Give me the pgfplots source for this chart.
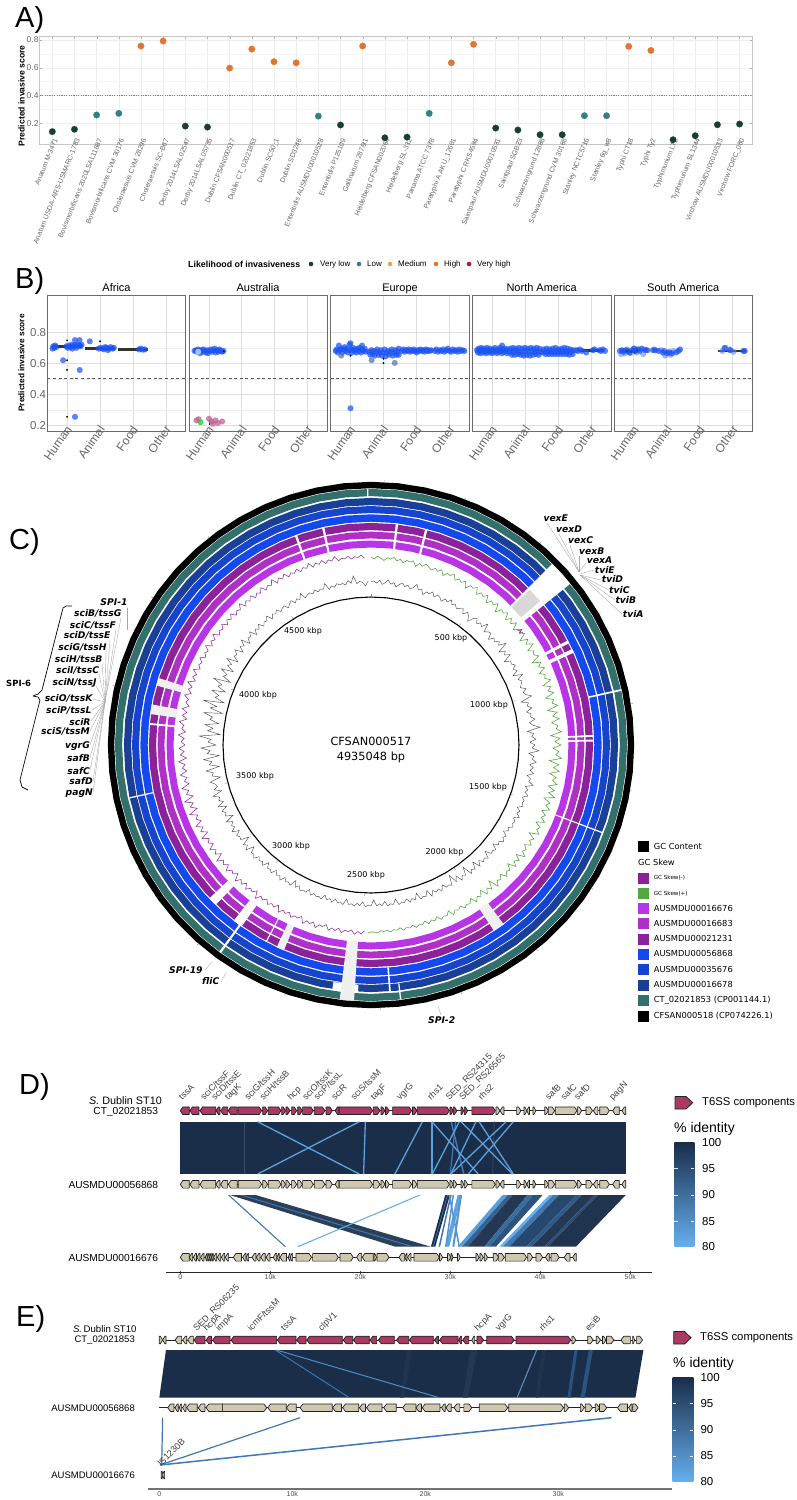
\documentclass[border=0pt]{standalone}
\usepackage{pgfplots}
\pgfplotsset{compat=1.18}
\usepgfplotslibrary{polar}
\usepackage{fontspec}
\setmainfont{Liberation Sans}
\newfontfamily\dv{DejaVu Sans}

\definecolor{vlow}{HTML}{17402F}
\definecolor{lowc}{HTML}{337F87}
\definecolor{medc}{HTML}{F0A050}
\definecolor{highc}{HTML}{E0762F}
\definecolor{vhigh}{HTML}{B5172E}
\definecolor{ptblue}{HTML}{1B54F5}
\definecolor{tickgray}{HTML}{666666}
\definecolor{m1}{HTML}{B835E6}
\definecolor{m2}{HTML}{AE30C4}
\definecolor{m3}{HTML}{8C2299}
\definecolor{b1}{HTML}{1449EE}
\definecolor{b2}{HTML}{1644CC}
\definecolor{b3}{HTML}{1A3F96}
\definecolor{teal1}{HTML}{33706C}
\definecolor{gapg}{HTML}{F0F0F0}
\definecolor{skewp}{HTML}{8E3A9E}
\definecolor{skewg}{HTML}{55A840}
\definecolor{t6ss}{HTML}{A83A63}
\definecolor{beige}{HTML}{CFC8B0}
\definecolor{genedge}{HTML}{222222}
\definecolor{idn}{HTML}{1A2E4A}
\definecolor{idl}{HTML}{65AFF0}
\definecolor{ribm}{HTML}{3F78B2}

\newcommand\fs[1]{\fontsize{#1}{#1}\selectfont}
\newcommand\gi{\dv\fs{9.2}\bfseries\itshape}
\newcommand\ringpts[1]{(0,#1)(6,#1)(12,#1)(18,#1)(24,#1)(30,#1)(36,#1)(42,#1)(48,#1)(54,#1)(60,#1)(66,#1)(72,#1)(78,#1)(84,#1)(90,#1)(96,#1)(102,#1)(108,#1)(114,#1)(120,#1)(126,#1)(132,#1)(138,#1)(144,#1)(150,#1)(156,#1)(162,#1)(168,#1)(174,#1)(180,#1)(186,#1)(192,#1)(198,#1)(204,#1)(210,#1)(216,#1)(222,#1)(228,#1)(234,#1)(240,#1)(246,#1)(252,#1)(258,#1)(264,#1)(270,#1)(276,#1)(282,#1)(288,#1)(294,#1)(300,#1)(306,#1)(312,#1)(318,#1)(324,#1)(330,#1)(336,#1)(342,#1)(348,#1)(354,#1)(360,#1)}
\newcommand\rng[3]{\edef\tmp{\noexpand\addplot[draw=#3,line width=#2pt,line join=round] coordinates {\ringpts{#1}};}\tmp}
\newcommand\gp[5]{\addplot[fill=#5,draw=none] coordinates {(#1,#3)(#2,#3)(#2,#4)(#1,#4)};}
\newcommand\rt[3]{\addplot[draw=gray,line width=.4pt] coordinates {(#1,#2)(#1,#3)};}

\def\headk{.28}
\newcommand\gn[4]{%
  \pgfmathsetmacro\gM{#3-(#3>#2?1:-1)*min(\headk,abs(#3-#2)*0.7)}%
  \pgfmathsetmacro\gA{#1-3.8}\pgfmathsetmacro\gB{#1+3.8}%
  \edef\tmp{\noexpand\addplot[fill=#4,draw=genedge,line width=.7pt,line join=round] coordinates {(#2,\gA)(\gM,\gA)(#3,#1)(\gM,\gB)(#2,\gB)(#2,\gA)};}\tmp}
\newcommand\grow[3]{\foreach \ga/\gb in {#3}{\gn{#1}{\ga}{\gb}{#2}}}
\newcommand\rs[7]{\addplot[fill=#7,draw=none] coordinates {(#3,#1)(#4,#1)(#6,#2)(#5,#2)};}
\newcommand\rl[6]{\addplot[draw=#5,line width=#6pt] coordinates {(#3,#1)(#4,#2)};}

\newcommand\lab[4][west]{\node[anchor=#1,inner sep=0pt] at (axis cs:#2,-#3) {#4};}
\newcommand\lf[2]{\addplot[draw=gray!70,line width=.35pt] coordinates {#1 #2};}
\newcommand\gl[3]{\node[rotate=45,anchor=base west,inner sep=0pt,font=\fs{9},text=black!75] at (axis cs:#1,-#2) {#3};}
\newcommand\sq[2]{\addplot[only marks,mark=square*,mark size=5pt,mark options={draw=#2,fill=#2,line width=.1pt}] coordinates {(643,-#1)};}
\newcommand\dt[2]{\addplot[only marks,mark=*,mark size=2.2pt,mark options={draw=#2,fill=#2,line width=.1pt}] coordinates {(#1,-264)};}

\pgfplotsset{
  mk/.style 2 args={only marks,mark=*,mark size=#2,mark options={draw=#1,fill=#1,line width=.1pt,line join=round}},
  mo/.style n args={3}{only marks,mark=*,mark size=#2,mark options={draw=#1,fill=#1,line width=.1pt,line join=round,opacity=#3}},
  bp/.style={mo={ptblue}{2.9pt}{.72}},
  ol/.style={mk={black}{.9pt}},
  med/.style={draw=black!80,line width=3pt},
  cut/.style={draw=black!65,line width=1pt,dash pattern=on 3pt off 2.6pt},
  fb/.style={scale only axis,height=136.4pt,xmin=-.6,xmax=3.6,ymin=.159,ymax=1.039,
    xtick={0,1,2,3},xticklabels={Human,Animal,Food,Other},ytick={.2,.4,.6,.8},minor y tick num=1,grid=both,
    major grid style={draw=black!13,line width=.8pt},minor grid style={draw=black!7,line width=.5pt},
    axis line style={draw=black!58,line width=1pt},tick style={draw=none},clip=true,
    xticklabel style={rotate=55,anchor=east,font=\fs{12},text=tickgray,xshift=5pt,yshift=1pt,inner sep=0pt},
    yticklabel style={font=\fs{11.5},text=tickgray,inner sep=1pt},
    /pgf/number format/assume math mode=true,/pgf/number format/fixed,/pgf/number format/precision=1},
  gax/.style={scale only axis,axis x line=bottom,axis y line=none,axis line style={-},clip=false,
    xtick={0,10,20,30,40,50},xticklabels={0,10k,20k,30k,40k,50k},
    xticklabel style={font=\fs{7},text=black!70,inner sep=1pt},
    /pgf/number format/assume math mode=true}
}

\begin{document}
\begin{tikzpicture}
\path[use as bounding box] (0,0) rectangle (796pt,-1500pt);

% panel A
\begin{axis}[at={(39.7pt,-144.3pt)},anchor=south west,scale only axis,width=712.3pt,height=107.6pt,
  xmin=-.568,xmax=31.56,ymin=.049,ymax=.824,xtick={0,...,31},ytick={.2,.4,.6,.8},minor y tick num=1,grid=both,
  major grid style={draw=black!7,line width=.5pt},minor grid style={draw=black!4,line width=.4pt},
  axis line style={draw=black!22,line width=1pt},tick style={draw=black!30},major tick length=2pt,minor tick length=0pt,
  /pgf/number format/assume math mode=true,/pgf/number format/fixed,/pgf/number format/precision=1,
  yticklabel style={font=\fs{8.5},text=tickgray,inner sep=1pt},
  xticklabel style={rotate=68,anchor=east,font=\fs{7},text=tickgray,inner sep=0pt,xshift=6.5pt,yshift=-1pt},
  xticklabels={Anatum M-3471,Anatum USDA-ARS-USMARC-1783,Bovismorbificans 2020LSAL11867,Bovismorbificans CVM 30176,Choleraesuis CVM 28296,Choleraesuis SC-B67,Derby 2014LSAL02547,Derby 2014LSAL05735,Dublin CFSAN000517,Dublin CT\_02021853,Dublin SC50\_1,Dublin SD3246,Enteritidis AUSMDU00010528,Enteritidis P125109,Gallinarum 287/91,Heidelberg CFSAN002064,Heidelberg SL-312,Panama ATCC 7378,Paratyphi A AKU\_12601,Paratyphi C RKS4594,Saintpaul AUSMDU00010531,Saintpaul SGB23,Schwarzengrund 12888,Schwarzengrund CVM 30168,Stanley NCTC5716,Stanley 6g\_w8,Typhi CT18,Typhi Ty2,Typhimurium LT2,Typhimurium SL1344,Virchow AUSMDU00010533,Virchow FORC\_080}]
\addplot[draw=black!50,line width=.9pt,dash pattern=on 1.2pt off 1.2pt] coordinates {(-.568,.4)(31.56,.4)};
\addplot[mk={vlow}{3.3pt}] coordinates {(0,.14)(1,.157)(6,.18)(7,.173)(13,.188)(15,.096)(16,.101)(20,.166)(21,.152)(22,.118)(23,.118)(28,.082)(29,.111)(30,.19)(31,.195)};
\addplot[mk={lowc}{3.3pt}] coordinates {(2,.26)(3,.272)(12,.252)(17,.272)(24,.255)(25,.255)};
\addplot[mk={highc}{3.3pt}] coordinates {(4,.757)(5,.793)(8,.598)(9,.735)(10,.644)(11,.636)(14,.757)(18,.636)(19,.769)(26,.754)(27,.725)};
\end{axis}

% panel B
\begin{axis}[fb,at={(47.3pt,-431.7pt)},anchor=south west,width=138.4pt]
\addplot[cut] coordinates {(-.6,.5)(3.6,.5)};
\addplot[med] coordinates {(-.45,.71)(.45,.71)};
\addplot[med] coordinates {(.55,.697)(1.45,.697)};
\addplot[med] coordinates {(1.55,.69)(2.45,.69)};
\addplot[bp] coordinates {(-.44,.695)(-.42,.71)(-.39,.70)(-.36,.715)(-.33,.705)(-.02,.71)(.02,.70)(.06,.715)(.1,.705)(.14,.72)(.16,.695)(.2,.71)(.24,.72)(.24,.75)(.28,.70)(.31,.715)(.36,.72)(.38,.75)(.41,.71)(.44,.72)(-.12,.62)(.385,.557)(.24,.255)
 (.69,.742)(.96,.695)(1.02,.70)(1.08,.695)(1.12,.69)(1.16,.705)(1.2,.70)(1.24,.685)(1.28,.695)(1.32,.705)(1.38,.695)(1.42,.70)(2.18,.69)(2.24,.695)(2.3,.688)(2.36,.69)};
\addplot[ol] coordinates {(0,.748)(0,.62)(0,.558)(0,.255)(1,.742)};
\end{axis}

\begin{axis}[fb,at={(189.3pt,-431.7pt)},anchor=south west,width=138pt,yticklabels={}]
\addplot[cut] coordinates {(-.6,.5)(3.6,.5)};
\addplot[bp] coordinates {(-.44,.68)(-.4,.685)(-.37,.675)(-.33,.69)(-.3,.68)(-.27,.665)(-.24,.685)(-.2,.675)(-.17,.69)(-.13,.68)(-.1,.67)(-.06,.685)(-.03,.665)(.01,.68)(.05,.69)(.09,.675)(.13,.685)(.17,.695)(.2,.67)(.24,.685)(.28,.675)(.32,.69)(.36,.68)(.4,.675)(.44,.68)};
\addplot[mo={ptblue!30!white}{2.9pt}{.9}] coordinates {(-.33,.675)};
\addplot[mo={magenta!55!gray}{2.9pt}{.75}] coordinates {(-.38,.232)(-.32,.24)(0,.243)(.12,.21)(.2,.232)(.27,.215)(.4,.225)(.08,.225)};
\addplot[mo={green!60!gray}{2.9pt}{.8}] coordinates {(-.26,.22)};
\addplot[draw=black,line width=1pt] coordinates {(.02,.205)(.02,.235)};
\addplot[ol] coordinates {(.45,.678)};
\end{axis}

\begin{axis}[fb,at={(330.7pt,-431.7pt)},anchor=south west,width=138.6pt,yticklabels={}]
\addplot[cut] coordinates {(-.6,.5)(3.6,.5)};
\addplot[bp] coordinates {(-.45,.68)(-.42,.69)(-.38,.67)(-.35,.715)(-.33,.685)(-.29,.695)(-.25,.67)(-.22,.69)(-.18,.705)(-.15,.68)(-.12,.695)(-.08,.67)(-.05,.685)(-.03,.72)(0,.73)(.02,.69)(.05,.67)(.08,.70)(.11,.68)(.15,.69)(.18,.67)(.21,.695)(.25,.68)(.28,.70)(.32,.67)(.35,.69)(.35,.715)(.39,.68)(.43,.695)(.46,.675)(0,.31)
 (.56,.675)(.6,.655)(.63,.685)(.67,.66)(.7,.68)(.74,.65)(.78,.675)(.81,.69)(.85,.655)(.88,.67)(.92,.685)(.95,.65)(.99,.67)(1.03,.69)(1.06,.645)(1.1,.665)(1.14,.68)(1.17,.655)(1.21,.675)(1.25,.69)(1.28,.65)(1.32,.67)(1.36,.685)(1.39,.655)(1.43,.675)(1.46,.695)(1.46,.655)
 (1.56,.68)(1.6,.69)(1.64,.675)(1.68,.685)(1.72,.68)(1.76,.69)(1.8,.675)(1.84,.685)(1.88,.68)(1.92,.69)(1.96,.68)(2,.67)(2.04,.685)(2.08,.68)(2.12,.69)(2.16,.68)(2.2,.685)(2.24,.675)(2.28,.69)(2.32,.68)(2.36,.685)(2.4,.68)(2.44,.685)
 (2.55,.68)(2.6,.69)(2.65,.675)(2.7,.685)(2.75,.68)(2.8,.69)(2.85,.675)(2.9,.685)(2.95,.695)(3,.68)(3.05,.675)(3.1,.69)(3.15,.68)(3.2,.685)(3.25,.675)(3.3,.69)(3.35,.68)(3.4,.685)(3.45,.68)};
\addplot[mo={ptblue!45!gray}{2.9pt}{.7}] coordinates {(1.34,.603)(.64,.62)(-.28,.65)};
\addplot[ol] coordinates {(0,.65)(1,.602)(1,.63)};
\end{axis}

\begin{axis}[fb,at={(472.3pt,-431.7pt)},anchor=south west,width=138.7pt,yticklabels={}]
\addplot[cut] coordinates {(-.6,.5)(3.6,.5)};
\addplot[med,line width=2.5pt] coordinates {(2.7,.682)(3.4,.682)};
\addplot[bp] coordinates {(-.46,.685)(-.43,.67)(-.41,.695)(-.38,.68)(-.35,.665)(-.33,.70)(-.3,.685)(-.27,.67)(-.24,.695)(-.21,.68)(-.18,.665)(-.15,.70)(-.12,.685)(-.09,.67)(-.06,.695)(-.03,.68)(0,.665)(.03,.69)(.06,.675)(.09,.70)(.12,.68)(.15,.665)(.18,.69)(.21,.675)(.24,.70)(.27,.68)(.3,.715)(.3,.665)(.33,.69)(.36,.675)(.39,.695)(.42,.68)(.45,.665)(.46,.69)
 (.53,.67)(.55,.695)(.58,.68)(.6,.655)(.63,.70)(.66,.675)(.69,.655)(.72,.695)(.75,.68)(.78,.66)(.81,.70)(.84,.675)(.87,.655)(.9,.695)(.93,.675)(.96,.65)(.99,.70)(1.02,.68)(1.05,.655)(1.08,.695)(1.11,.675)(1.14,.65)(1.17,.70)(1.2,.68)(1.23,.655)(1.26,.695)(1.29,.675)(1.32,.66)(1.35,.70)(1.38,.675)(1.41,.655)(1.44,.695)(1.46,.675)
 (1.53,.67)(1.56,.69)(1.59,.675)(1.62,.66)(1.65,.695)(1.68,.675)(1.71,.66)(1.74,.69)(1.77,.675)(1.8,.66)(1.83,.695)(1.86,.675)(1.89,.66)(1.92,.70)(1.95,.675)(1.98,.66)(2.01,.69)(2.04,.675)(2.07,.66)(2.1,.695)(2.13,.68)(2.16,.66)(2.19,.70)(2.22,.675)(2.25,.66)(2.28,.695)(2.31,.675)(2.34,.655)(2.37,.69)(2.4,.675)(2.44,.66)(2.46,.685)
 (2.55,.685)(2.6,.68)(2.65,.69)(2.72,.68)(2.85,.67)(3.05,.685)(3.1,.69)(3.25,.685)(3.3,.68)(3.35,.69)(3.42,.68)};
\end{axis}

\begin{axis}[fb,at={(614pt,-431.7pt)},anchor=south west,width=138.7pt,yticklabels={}]
\addplot[cut] coordinates {(-.6,.5)(3.6,.5)};
\addplot[med,line width=2pt] coordinates {(2.55,.682)(3.4,.682)};
\addplot[mo={ptblue!70!white}{2.9pt}{.6}] coordinates {(-.38,.66)(-.34,.68)(-.27,.665)(-.2,.69)(-.1,.665)(.02,.695)(.08,.67)(.15,.69)(.28,.66)(.32,.69)(.62,.69)(.82,.685)(.95,.65)(1.05,.675)(1.12,.655)(1.2,.68)(2.68,.68)(2.78,.70)(2.9,.69)(3.02,.675)};
\addplot[bp] coordinates {(-.42,.68)(-.36,.685)(-.3,.675)(-.25,.685)(-.18,.68)(-.13,.67)(-.05,.685)(0,.695)(.05,.68)(.12,.69)(.18,.68)(.24,.695)(.36,.685)(.41,.685)(.58,.685)(.65,.685)(.75,.68)(.88,.67)(.92,.68)(1,.665)(1.08,.67)(1.16,.665)(1.28,.67)(1.35,.68)(1.4,.69)(2.75,.70)(2.92,.685)(3.32,.68)(3.36,.68)};
\addplot[mo={vlow}{1.6pt}{.45}] coordinates {(-.08,.675)(.03,.67)(-.2,.68)(.1,.685)};
\addplot[draw=black,line width=.8pt] coordinates {(1,.66)(1,.675)};
\end{axis}

% panel C
\begin{polaraxis}[at={(371pt,-745pt)},anchor=center,scale only axis,width=526pt,height=526pt,hide axis,ymin=0,ymax=263,clip=false,
  x coord trafo/.code={\pgfmathparse{90-#1}}]
\rng{260}{6.4}{black}
\rng{252.5}{7.2}{teal1}
\rng{243.5}{7.2}{b3}
\rng{235.5}{7}{b2}
\rng{227}{7.4}{b1}
\rng{218.5}{7.2}{m3}
\rng{210}{6.8}{m2}
\rng{201}{7}{m1}
\rng{148}{1.1}{black}
\addplot[draw=skewg,line width=.6pt] table[x expr=\coordindex,y=r,row sep=\\] {r\\188\\186\\189\\187\\185\\188\\187\\189\\186\\188\\185\\188\\187\\189\\184\\188\\186\\189\\187\\185\\188\\186\\189\\184\\188\\187\\190\\185\\188\\186\\189\\183\\188\\187\\190\\184\\188\\186\\190\\183\\188\\186\\190\\182\\188\\187\\190\\184\\189\\185\\190\\183\\188\\186\\190\\182\\189\\185\\191\\183\\188\\186\\190\\181\\189\\185\\190\\183\\188\\186\\191\\182\\189\\185\\190\\181\\188\\186\\191\\180\\189\\184\\190\\182\\188\\186\\191\\180\\189\\184\\190\\182\\188\\185\\191\\179\\189\\184\\190\\181\\188\\185\\190\\182\\189\\184\\191\\181\\188\\185\\190\\183\\188\\185\\190\\182\\188\\186\\190\\181\\188\\185\\189\\183\\187\\185\\190\\182\\188\\184\\189\\181\\187\\185\\189\\183\\187\\185\\190\\180\\188\\184\\189\\182\\187\\185\\189\\183\\187\\186\\188\\184\\187\\185\\189\\183\\187\\186\\188\\184\\187\\185\\188\\184\\187\\186\\188\\185\\187\\186\\188\\185\\187\\186\\188\\186\\187\\186\\188\\187\\187\\188\\};
\addplot[draw=skewp,line width=.6pt] table[x expr=182+\coordindex,y=r,row sep=\\] {r\\186\\189\\187\\190\\186\\188\\187\\190\\186\\189\\187\\190\\185\\188\\187\\191\\186\\189\\187\\191\\185\\188\\187\\190\\186\\189\\187\\191\\185\\189\\187\\190\\186\\189\\187\\192\\185\\189\\187\\191\\186\\190\\187\\192\\185\\189\\187\\192\\186\\190\\187\\193\\185\\190\\187\\192\\186\\190\\187\\193\\185\\191\\187\\193\\186\\190\\187\\194\\185\\191\\187\\195\\185\\191\\188\\194\\186\\190\\187\\193\\186\\190\\187\\193\\185\\191\\187\\192\\186\\190\\187\\193\\186\\190\\188\\193\\186\\191\\187\\192\\186\\190\\188\\193\\187\\191\\188\\194\\187\\191\\188\\193\\187\\190\\188\\192\\187\\190\\188\\193\\187\\191\\188\\193\\187\\190\\188\\192\\187\\191\\188\\192\\187\\190\\188\\193\\187\\191\\188\\192\\187\\190\\188\\192\\187\\190\\188\\193\\187\\191\\188\\192\\187\\190\\188\\191\\187\\190\\188\\192\\187\\190\\188\\191\\187\\190\\188\\192\\187\\189\\188\\190\\187\\189\\188\\190\\187\\};
\addplot[draw=black!72,line width=.42pt] table[x expr=\coordindex,y=r,row sep=\\] {r\\163\\164\\162\\165\\161\\163\\166\\162\\164\\160\\163\\165\\162\\164\\161\\163\\167\\162\\164\\159\\163\\162\\165\\161\\164\\163\\160\\164\\162\\166\\162\\164\\161\\163\\165\\160\\164\\162\\157\\163\\165\\161\\164\\162\\168\\160\\163\\164\\158\\163\\161\\165\\162\\169\\158\\164\\161\\166\\157\\163\\162\\165\\161\\164\\158\\167\\161\\164\\162\\160\\165\\161\\163\\168\\156\\163\\161\\165\\159\\163\\162\\166\\160\\163\\170\\157\\163\\161\\165\\159\\164\\161\\168\\158\\163\\162\\166\\160\\164\\161\\165\\159\\163\\162\\167\\160\\163\\161\\165\\160\\163\\162\\164\\159\\163\\161\\165\\160\\163\\162\\164\\160\\162\\158\\163\\161\\164\\160\\162\\157\\163\\161\\162\\156\\163\\160\\162\\158\\163\\155\\162\\160\\163\\153\\161\\159\\163\\156\\161\\152\\162\\160\\161\\157\\162\\159\\161\\158\\163\\156\\161\\160\\162\\155\\161\\159\\162\\158\\161\\160\\162\\156\\161\\160\\162\\157\\161\\159\\161\\155\\161\\160\\162\\157\\161\\159\\162\\160\\161\\156\\162\\160\\161\\158\\162\\159\\161\\157\\162\\160\\161\\159\\162\\157\\161\\160\\162\\158\\161\\155\\162\\160\\161\\158\\163\\159\\161\\157\\162\\160\\161\\156\\162\\159\\161\\158\\163\\160\\161\\155\\163\\159\\162\\153\\161\\160\\162\\157\\164\\159\\161\\158\\164\\155\\162\\160\\163\\157\\165\\158\\162\\160\\166\\156\\163\\159\\161\\165\\154\\162\\160\\167\\153\\163\\160\\168\\152\\164\\161\\170\\155\\163\\160\\172\\151\\164\\159\\167\\154\\163\\161\\170\\152\\165\\159\\173\\153\\163\\160\\168\\155\\164\\161\\171\\154\\163\\160\\168\\156\\164\\161\\168\\157\\163\\162\\166\\158\\164\\161\\167\\158\\163\\162\\166\\159\\164\\161\\165\\160\\163\\162\\166\\160\\164\\162\\165\\161\\163\\164\\160\\163\\165\\161\\164\\162\\167\\161\\163\\164\\162\\165\\162\\164\\163\\168\\161\\164\\162\\165\\163\\164\\162\\166\\163\\170\\162\\164\\163\\159\\164\\};
\addplot[draw=skewp,line width=.8pt] coordinates {(52,186)(52.5,190)(53,186)(53.5,189)};
\foreach \a in {0,36.5,72.9,109.4,145.9,182.4,218.9,255.3,291.8,328.3}{\edef\tmp{\noexpand\rt{\a}{148}{151}}\tmp}
\foreach \a in {3,21,40,60,81,100,123,141,160,178,199,221,242,262,283,304,322,343}{\edef\tmp{\noexpand\rt{\a}{263}{265}}\tmp}
% gaps in the rings
\gp{45}{51}{197}{256.3}{white}
\gp{45.6}{49.6}{197}{222}{gapg!90!black}
\gp{62}{62.8}{197}{223}{white}
\gp{64.5}{65.5}{197}{223}{white}
\gp{77.4}{77.8}{223}{256}{white}
\gp{87.4}{87.9}{197}{223}{white}
\gp{88.6}{89.1}{197}{223}{white}
\gp{110.6}{110.9}{197}{247}{white}
\gp{143.5}{146.5}{197}{223}{gapg}
\gp{175.4}{175.8}{223}{247}{white}
\gp{173.2}{173.5}{240}{256}{white}
\gp{183}{189}{240}{248}{white}
\gp{183.8}{187}{197}{256.3}{gapg}
\gp{203}{205}{197}{223}{gapg}
\gp{207.9}{208.2}{197}{223}{white}
\gp{215.5}{218}{197}{223}{white}
\gp{215.8}{216.3}{223}{256.3}{white}
\gp{224.2}{226.5}{197}{223}{white}
\gp{257.5}{257.8}{223}{247}{white}
\gp{275.2}{275.7}{197}{223}{white}
\gp{278}{280.5}{197}{223}{gapg}
\gp{285.5}{287.5}{197}{223}{gapg}
\gp{340}{340.6}{197}{223}{white}
\gp{347.3}{347.9}{197}{223}{white}
\gp{6.4}{7}{197}{223}{white}
\gp{14.1}{14.7}{197}{223}{white}
\gp{359.1}{359.4}{248}{256}{white}
\end{polaraxis}

% panel D
\def\headk{.28}
\begin{axis}[gax,at={(166.3pt,-1272.3pt)},anchor=south west,width=485.4pt,height=182.3pt,xmin=-1.556,xmax=52.38,ymin=-1272.3,ymax=-1090,
  axis line style={-,draw=black!85,line width=.8pt},tick style={draw=black!70},major tick length=2.5pt]
\rs{-1121.7}{-1174}{0}{49.5}{0}{49.5}{idn}
\rl{-1121.7}{-1174}{7.15}{7.15}{idn!85!white}{.6}
\rl{-1121.7}{-1174}{34.9}{34.7}{idn!92!white}{1.2}
\rl{-1121.7}{-1174}{30.1}{31.5}{ribm}{1.5}
\rl{-1121.7}{-1174}{30.6}{30.0}{ribm}{1.2}
\foreach \ta/\tb in {8.59/19.89,19.89/8.59,20.56/20.37,26.9/23.85,27.96/27.96,27.96/33.1,31/28,32.85/30.07,33.2/37,36.2/30.07,37/32,31.2/36.9}{\edef\tmp{\noexpand\rl{-1121.7}{-1174}{\ta}{\tb}{idl!92!black}{1.3}}\tmp}
\rs{-1195}{-1246.7}{5.52}{8.37}{23.9}{27.85}{idn!92!white}
\rs{-1195}{-1246.7}{6.6}{6.95}{25.6}{26}{ribm}
\rl{-1195}{-1246.7}{5.37}{11.67}{ribm}{1.1}
\rl{-1195}{-1246.7}{26.63}{13.04}{idl}{1.1}
\rs{-1195}{-1246.7}{29.44}{29.96}{27.85}{28.33}{idn}
\rl{-1195}{-1246.7}{29.7}{28.1}{ribm}{.7}
\rl{-1195}{-1246.7}{30.07}{28.78}{ribm}{1.5}
\rs{-1195}{-1246.7}{30.81}{31.26}{29.44}{29.89}{idl!80!ribm}
\rl{-1195}{-1246.7}{29.89}{31}{idl!85!black}{1.6}
\rl{-1195}{-1246.7}{31.2}{30.33}{idl!85!black}{2}
\rl{-1195}{-1246.7}{30.33}{29.5}{idl!85!black}{1.5}
\rs{-1195}{-1246.7}{35.8}{36.37}{30.81}{31.3}{idl!90!black}
\rs{-1195}{-1246.7}{36.37}{36.93}{31.3}{31.93}{ribm!70!idn}
\rs{-1195}{-1246.7}{36.93}{38.59}{31.93}{33.78}{idn!95!white}
\rs{-1195}{-1246.7}{38.59}{39.22}{33.78}{34.33}{ribm!85!idn}
\rs{-1195}{-1246.7}{39.22}{40.26}{34.33}{35.07}{ribm!50!idn}
\rs{-1195}{-1246.7}{40.99}{41.4}{35.44}{35.85}{idl}
\rs{-1195}{-1246.7}{41.4}{42.1}{35.85}{36.55}{ribm}
\rs{-1195}{-1246.7}{42.1}{44}{36.55}{38.45}{ribm!35!idn}
\rs{-1195}{-1246.7}{44}{44.6}{38.45}{39.05}{ribm!60!idn}
\rs{-1195}{-1246.7}{44.6}{46}{39.05}{40.45}{idn!95!white}
\rs{-1195}{-1246.7}{46}{46.4}{40.45}{40.85}{ribm!45!idn}
\rs{-1195}{-1246.7}{46.4}{49.5}{40.85}{43.96}{idn!97!white}
\addplot[draw=genedge,line width=.8pt] coordinates {(0,-1110.7)(49.5,-1110.7)};
\addplot[draw=genedge,line width=.8pt] coordinates {(0,-1184.3)(49.5,-1184.3)};
\addplot[draw=genedge,line width=.8pt] coordinates {(0,-1257.3)(44,-1257.3)};
\grow{-1110.7}{t6ss}{1/0,2.07/1.07,3.93/2.19,4.41/3.96,5.26/4.48,6.33/5.33,6.44/9.04,9.15/9.7,9.78/11.19,11.26/11.7,11.74/12.19,12.37/12.93,13.04/13.56,13.59/14.78,14.89/16.07,16.19/16.89,17.63/17.19,17.67/21.37,21.44/22.19,22.3/22.74,22.81/23.22,23.59/25.7,25.8/26.3,26.33/29.9,29.96/30.33,30.33/30.74,31.2/31.48,31.56/31.93,32.4/35}
\grow{-1110.7}{beige}{35.07/35.52,35.96/35.52,37.37/37.85,38.2/38.5,38.8/38.5,39.2/39.5,40.5/40.9,40.9/41.6,41.67/44.07,44.1/44.6,45.07/45.8,46.4/45.9,46.6/47.67,48.78/48.04,49.5/49.07}
\grow{-1184.3}{beige}{1/0,2.07/1.07,3.93/2.19,4.41/3.96,5.26/4.48,6.33/5.33,6.44/9.04,9.15/9.7,9.78/11.19,11.26/11.7,11.74/12.19,12.37/12.93,13.04/13.56,13.59/14.78,14.89/16.07,16.19/16.89,17.63/17.19,17.67/21.37,21.44/22.19,22.3/22.74,22.81/23.22,23.59/25.7,25.8/26.3,26.33/29.9,29.96/30.33,30.33/30.74,31.2/31.48,31.56/31.93,32.4/35,35.07/35.52,35.96/35.52,37.37/37.85,38.2/38.5,38.8/38.5,39.2/39.5,40.5/40.9,40.9/41.6,41.67/44.07,44.1/44.6,45.07/45.8,46.4/45.9,46.6/47.67,48.78/48.04,49.5/49.07}
\grow{-1257.3}{beige}{1/0,1.37/1,1.81/1.44,2.19/1.85,2.63/2.26,3/2.78,3.22/3.02,3.44/3.24,3.67/3.46,4.04/3.7,4.48/4.11,4.93/4.56,5.37/5,6.81/5.89,7.3/6.93,7.59/7.33,8.41/7.96,8.85/8.44,9.44/8.93,9.96/9.52,10.7/10.33,11/10.74,11.81/11.07,12.2/12,12.48/12.2,12.85/14.59,14.7/17.56,17.74/19.22,20.15/19.59,21.44/20.22,21.52/21.81,21.85/23.19,24.9/24.3,25.2/24.95,25.63/25.25,25.96/28.78,28.8/29.15,29.7/30.07,30.07/30.3,30.8/31.11,32.85/33.2,33.3/33.67,33.78/34.15,34.78/35.37,35.37/36,36.1/38.48,38.6/39.15,39.52/40.26,41/40.56,41.19/42.1,43.3/42.67,44/43.59}
\end{axis}

% panel E
\def\headk{.22}
\begin{axis}[gax,at={(148pt,-1489pt)},anchor=south west,width=524pt,height=167pt,xmin=-.85,xmax=38.55,ymin=-1489,ymax=-1322,
  xtick={0,10,20,30},xticklabels={0,10k,20k,30k},axis line style={-,draw=black!55,line width=1.3pt},tick style={draw=black!50},major tick length=2pt]
\rs{-1350}{-1397.7}{.5}{36.4}{0}{35.8}{idn}
\rs{-1350}{-1397.7}{18.6}{19}{18.1}{18.4}{idn!97!white}
\rs{-1350}{-1397.7}{23.4}{23.9}{22.8}{23.2}{idn!95!white}
\rs{-1350}{-1397.7}{28.8}{29.1}{28.3}{28.5}{idn!97!white}
\rl{-1350}{-1397.7}{8.72}{14.29}{ribm}{.9}
\rl{-1350}{-1397.7}{8.82}{21.05}{idl!80!black}{1}
\rl{-1350}{-1397.7}{28.37}{26.9}{ribm!85!white}{1.1}
\rl{-1350}{-1397.7}{31.33}{30.8}{ribm!50!idn}{3}
\rl{-1350}{-1397.7}{32.45}{31.83}{ribm!50!idn}{4}
\rl{-1417.7}{-1465}{.25}{.18}{ribm}{1.2}
\rl{-1417.7}{-1465}{10.58}{.05}{ribm}{1.2}
\rl{-1417.7}{-1465}{34}{.05}{ribm}{1.5}
\addplot[draw=genedge,line width=.8pt] coordinates {(0,-1340)(36.3,-1340)};
\addplot[draw=genedge,line width=.8pt] coordinates {(0,-1407.7)(35.8,-1407.7)};
\grow{-1340}{beige}{0/.25,.5/.25,1.68/1.18,2.06/1.75,2.56/2.13}
\grow{-1340}{t6ss}{3.43/2.61,3.93/3.51,5.31/4.01,8.82/5.39,10.28/8.87,11.03/10.33,13.76/11.08,14.54/13.83,15.79/14.59,16.34/15.84,17.67/16.47,18.75/17.84,20.6/18.8,21/20.68,22.46/21.08,22.73/22.5,23.26/22.81,23.88/24.39,24.62/26.69,26.82/30.95}
\grow{-1340}{beige}{23.71/23.5,31.03/31.33,32.21/32.63,32.86/33.18,33.33/33.58,33.63/34.19,35.42/34.71,35.59/35.74,35.89/36.34}
\grow{-1407.7}{beige}{1.1/.63,1.43/1.18,1.68/1.5,2/1.75,2.86/2.05,3.43/2.93,4.76/3.51,4.76/8.08,9.54/8.16,10.3/9.56,13/10.58,13.7/13.03,15/13.78,15.5/15.05,16.75/15.58,17.82/16.87,19.3/18.3,19.72/19.3,21.1/19.77,21.5/21.22,21.95/21.55,22.6/22.15,22.9/23.5,24.06/26.2,26.27/30.4,30.45/30.78,31.66/31.96,32.03/32.58,32.78/33.1,33.1/33.64,35.2/34.45,35.54/35.3,35.6/36}
\gn{-1475}{.15}{.3}{beige}
\gn{-1475}{.4}{.25}{beige}
\end{axis}

% labels, legends and keys drawn on one page-sized axis
\begin{axis}[at={(0pt,-1500pt)},anchor=south west,scale only axis,width=796pt,height=1500pt,hide axis,clip=false,xmin=0,xmax=796,ymin=-1500,ymax=0]
\lab{15}{20}{\fs{29}A)}
\lab{15}{281}{\fs{29}B)}
\lab{9}{542}{\fs{29}C)}
\lab{19}{1087}{\fs{29}D)}
\lab{16}{1319}{\fs{29}E)}
\node[rotate=90,inner sep=0pt,font=\fs{8.6}\bfseries] at (axis cs:21.5,-95.7) {Predicted invasive score};
\node[rotate=90,inner sep=0pt,font=\fs{8.3}\bfseries] at (axis cs:21.5,-363) {Predicted invasive score};
\lab{188}{264}{\fs{8.8}\bfseries Likelihood of invasiveness}
\dt{311}{vlow}\lab{320}{264}{\fs{8}Very low}
\dt{359}{lowc}\lab{367}{264}{\fs{8}Low}
\dt{390}{medc}\lab{398}{264}{\fs{8}Medium}
\dt{436}{highc}\lab{444}{264}{\fs{8}High}
\dt{469}{vhigh}\lab{477}{264}{\fs{8}Very high}
\lab[base]{116.5}{291}{\fs{11}Africa}
\lab[base]{258}{291}{\fs{11}Australia}
\lab[base]{400}{291}{\fs{11}Europe}
\lab[base]{541.7}{291}{\fs{11}North America}
\lab[base]{683.3}{291}{\fs{11}South America}
% panel C text
\lab[center]{371}{741}{\dv\fs{11.3}CFSAN000517}
\lab[center]{371}{757}{\dv\fs{11.3}4935048 bp}
\lab[center]{451}{638}{\dv\fs{8}500 kbp}
\lab[center]{489}{705}{\dv\fs{8}1000 kbp}
\lab[center]{488}{787}{\dv\fs{8}1500 kbp}
\lab[center]{444.5}{852.7}{\dv\fs{8}2000 kbp}
\lab[center]{366}{875.7}{\dv\fs{8}2500 kbp}
\lab[center]{291}{846}{\dv\fs{8}3000 kbp}
\lab[center]{255}{776.7}{\dv\fs{8}3500 kbp}
\lab[center]{258}{695}{\dv\fs{8}4000 kbp}
\lab[center]{303}{631.7}{\dv\fs{8}4500 kbp}
\lf{(127,-608)}{(127,-630)}
\lf{(121,-618)}{(105,-702)}\lf{(116,-629)}{(105,-702)}\lf{(110,-640)}{(105,-702)}\lf{(106,-651)}{(105,-702)}\lf{(102,-663)}{(105,-702)}\lf{(99,-674)}{(105,-702)}\lf{(96,-686)}{(105,-702)}\lf{(93,-699)}{(105,-702)}\lf{(92,-710)}{(105,-702)}\lf{(91,-721)}{(105,-702)}\lf{(90,-731)}{(105,-702)}\lf{(90,-745)}{(105,-702)}\lf{(90,-758)}{(105,-702)}\lf{(90,-770)}{(105,-702)}\lf{(93,-781)}{(105,-702)}\lf{(93,-793)}{(105,-702)}
\lab[east]{127.7}{602.3}{\gi SPI-1}
\lab[east]{121.7}{613}{\gi sciB/tssG}
\lab[east]{116}{625}{\gi sciC/tssF}
\lab[east]{110.7}{635.3}{\gi sciD/tssE}
\lab[east]{106.7}{647}{\gi sciG/tssH}
\lab[east]{102.7}{659}{\gi sciH/tssB}
\lab[east]{99.3}{670.7}{\gi sciI/tssC}
\lab[east]{96.7}{682.7}{\gi sciN/tssJ}
\lab[east]{92.7}{698.7}{\gi sciO/tssK}
\lab[east]{91.7}{710.3}{\gi sciP/tssL}
\lab[east]{90.7}{722.3}{\gi sciR}
\lab[east]{90}{731.7}{\gi sciS/tssM}
\lab[east]{90}{745.7}{\gi vgrG}
\lab[east]{90}{758.3}{\gi safB}
\lab[east]{90}{770.7}{\gi safC}
\lab[east]{93}{781}{\gi safD}
\lab[east]{93}{793}{\gi pagN}
\lab{6}{683}{\dv\fs{8.5}\bfseries SPI-6}
\addplot[draw=black,line width=.7pt,line join=round] coordinates {(72,-606)(66,-606)(63,-608)(42,-690)(38,-694)(33,-696)(38,-697)(40,-700)(20,-780)(22,-787)(28,-790)};
\lf{(547,-523)}{(579,-572)}\lf{(559,-534)}{(579,-572)}\lf{(570,-545)}{(579,-572)}\lf{(579,-556)}{(579,-572)}\lf{(586,-563)}{(579,-572)}\lf{(594,-570)}{(580,-574)}\lf{(601,-580)}{(580,-575)}\lf{(609,-590)}{(580,-575)}\lf{(615,-600)}{(580,-575)}\lf{(622,-614)}{(580,-575)}
\lab{543.3}{518.7}{\gi vexE}
\lab{556}{529}{\gi vexD}
\lab{568}{540}{\gi vexC}
\lab{579}{551.3}{\gi vexB}
\lab{586.7}{560.3}{\gi vexA}
\lab{594.7}{569.7}{\gi tviE}
\lab{601.7}{579.3}{\gi tviD}
\lab{609}{589.7}{\gi tviC}
\lab{615.3}{600.3}{\gi tviB}
\lab{622.7}{614.3}{\gi tviA}
\lab{169}{970}{\gi SPI-19}
\lab{202}{980.7}{\gi fliC}
\lab{428}{1020}{\gi SPI-2}
\lf{(205,-970)}{(212,-962)}\lf{(221,-982)}{(226,-973)}\lf{(441,-1015)}{(438,-1006)}
\sq{846.3}{black}\lab{653.7}{846.3}{\dv\fs{8.3}GC Content}
\lab{638}{862}{\dv\fs{8.3}GC Skew}
\sq{878}{m3}\lab{653.7}{878}{\dv\fs{5.6}GC Skew(-)}
\sq{893.3}{skewg}\lab{653.7}{893.3}{\dv\fs{5.6}GC Skew(+)}
\sq{908}{m1}\lab{653.7}{908}{\dv\fs{8.3}AUSMDU00016676}
\sq{923.3}{m2}\lab{653.7}{923.3}{\dv\fs{8.3}AUSMDU00016683}
\sq{938.7}{m3}\lab{653.7}{938.7}{\dv\fs{8.3}AUSMDU00021231}
\sq{953.7}{b1}\lab{653.7}{953.7}{\dv\fs{8.3}AUSMDU00056868}
\sq{969}{b2}\lab{653.7}{969}{\dv\fs{8.3}AUSMDU00035676}
\sq{984.7}{b3}\lab{653.7}{984.7}{\dv\fs{8.3}AUSMDU00016678}
\sq{1000.3}{teal1}\lab{653.7}{1000.3}{\dv\fs{8.3}CT\_02021853 (CP001144.1)}
\sq{1016}{black}\lab{653.7}{1016}{\dv\fs{8.3}CFSAN000518 (CP074226.1)}
% panel D text
\lab[east]{162}{1100.7}{\fs{10.8}{\itshape S.} Dublin ST10}
\lab[east]{158.3}{1111.7}{\fs{10.2}CT\_02021853}
\lab[east]{158.3}{1184.7}{\fs{10.2}AUSMDU00056868}
\lab[east]{158.3}{1257.7}{\fs{10.2}AUSMDU00016676}
\gl{182.3}{1100.7}{tssA}\gl{204}{1100.7}{sciC/tssF}\gl{215}{1100.7}{sciD/tssE}\gl{228.3}{1100.7}{tagK}\gl{248.3}{1100.7}{sciG/tssH}\gl{263.3}{1100.7}{sciH/tssB}\gl{291}{1100.7}{hcp}\gl{306}{1100.7}{sciO/tssK}\gl{317.3}{1100.7}{sciP/tssL}\gl{335}{1100.7}{sciR}\gl{354.3}{1100.7}{sciS/tssM}\gl{374}{1100.7}{tagF}\gl{400}{1100.7}{vgrG}\gl{431}{1100.7}{rhs1}\gl{449.3}{1100.7}{SED\_RS24315}\gl{462.7}{1100.7}{SED\_RS26565}\gl{481.7}{1100.7}{rhs2}\gl{548.7}{1100.7}{safB}\gl{564.3}{1100.7}{safC}\gl{577.7}{1100.7}{safD}\gl{612.7}{1100.7}{pagN}
\addplot[fill=t6ss,draw=genedge,line width=.8pt] coordinates {(675,-1096.5)(686,-1096.5)(692.7,-1102.7)(686,-1109)(675,-1109)(675,-1096.5)};
\lab{702}{1103}{\fs{11.3}T6SS components}
\lab{674}{1129}{\fs{14}\% identity}
\addplot[draw=none,top color=idn,bottom color=idl] coordinates {(674.3,-1142.7)(694.3,-1142.7)(694.3,-1246.7)(674.3,-1246.7)};
\lab{702}{1143}{\fs{11.5}100}\lab{702}{1169}{\fs{11.5}95}\lab{702}{1195}{\fs{11.5}90}\lab{702}{1221.3}{\fs{11.5}85}\lab{702}{1247}{\fs{11.5}80}
\foreach \yy in {1168.7,1195,1221.3}{\edef\tmp{\noexpand\addplot[draw=white!80!idl,line width=.6pt] coordinates {(674.3,-\yy)(678,-\yy)};\noexpand\addplot[draw=white!80!idl,line width=.6pt] coordinates {(690.6,-\yy)(694.3,-\yy)};}\tmp}
% panel E text
\lab[east]{136.7}{1329}{\fs{9.6}{\itshape S.}\,Dublin ST10}
\lab[east]{135}{1340.3}{\fs{9.5}CT\_02021853}
\lab[east]{135}{1408}{\fs{9.5}AUSMDU00056868}
\lab[east]{135}{1475}{\fs{9.5}AUSMDU00016676}
\gl{196.7}{1331.7}{SED\_RS06235}\gl{206.7}{1331.7}{hcpA}\gl{219}{1331.7}{impA}\gl{251}{1331.7}{icmF/tssM}\gl{284.3}{1331.7}{tssA}\gl{321.7}{1331.7}{clpV1}\gl{477.7}{1331.7}{hcpA}\gl{498.7}{1331.7}{vgrG}\gl{542.7}{1331.7}{rhs1}\gl{588.7}{1331.7}{esiB}\gl{161}{1467}{IS1230B}
\addplot[fill=t6ss,draw=genedge,line width=.8pt] coordinates {(673.7,-1331.5)(684.5,-1331.5)(691,-1337.7)(684.5,-1344)(673.7,-1344)(673.7,-1331.5)};
\lab{700}{1338}{\fs{11.3}T6SS components}
\lab{673}{1364}{\fs{14}\% identity}
\addplot[draw=none,top color=idn,bottom color=idl] coordinates {(672.7,-1377.7)(693.3,-1377.7)(693.3,-1481.7)(672.7,-1481.7)};
\lab{700.3}{1378}{\fs{11.5}100}\lab{700.3}{1403.7}{\fs{11.5}95}\lab{700.3}{1430}{\fs{11.5}90}\lab{700.3}{1456}{\fs{11.5}85}\lab{700.3}{1482}{\fs{11.5}80}
\foreach \yy in {1403.7,1430,1456}{\edef\tmp{\noexpand\addplot[draw=white!80!idl,line width=.6pt] coordinates {(672.7,-\yy)(676.4,-\yy)};\noexpand\addplot[draw=white!80!idl,line width=.6pt] coordinates {(689.6,-\yy)(693.3,-\yy)};}\tmp}
\end{axis}
\end{tikzpicture}
\end{document}
